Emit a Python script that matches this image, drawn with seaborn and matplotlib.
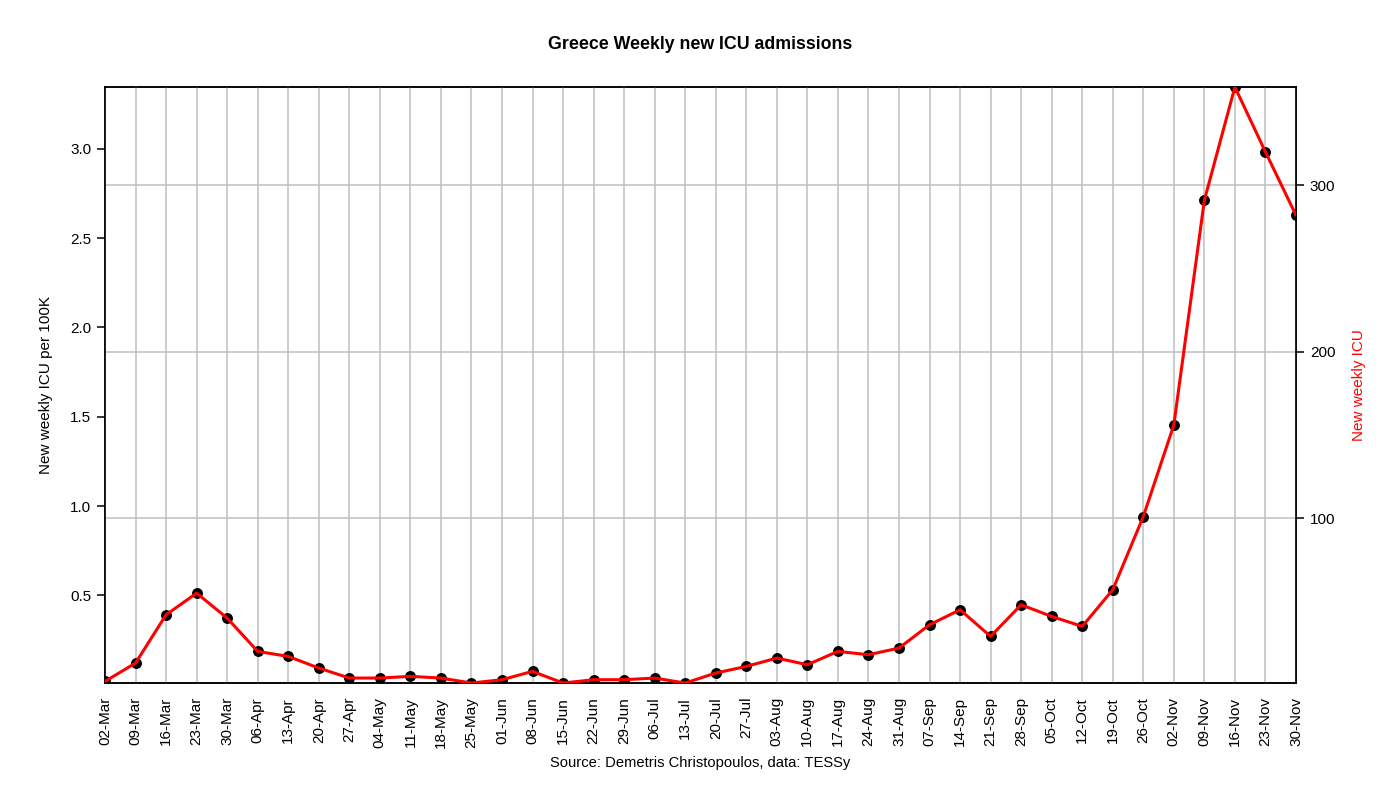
import numpy as np
import pandas as pd
import matplotlib
matplotlib.use("Agg")
import matplotlib.pyplot as plt
import seaborn as sns

# Weekly data (week starting dates) and new ICU admissions
weeks = ["02-Mar", "09-Mar", "16-Mar", "23-Mar", "30-Mar", "06-Apr", "13-Apr", "20-Apr",
         "27-Apr", "04-May", "11-May", "18-May", "25-May", "01-Jun", "08-Jun", "15-Jun",
         "22-Jun", "29-Jun", "06-Jul", "13-Jul", "20-Jul", "27-Jul", "03-Aug", "10-Aug",
         "17-Aug", "24-Aug", "31-Aug", "07-Sep", "14-Sep", "21-Sep", "28-Sep", "05-Oct",
         "12-Oct", "19-Oct", "26-Oct", "02-Nov", "09-Nov", "16-Nov", "23-Nov", "30-Nov"]
icu_counts = [2, 13, 42, 55, 40, 20, 17, 10, 4, 4, 5, 4, 1, 3, 8, 1, 3, 3, 4, 1,
              7, 11, 16, 12, 20, 18, 22, 36, 45, 29, 48, 41, 35, 57, 101, 156, 291, 359, 320, 282]
pop_100k = 107.3  # Greece population in units of 100K

df = pd.DataFrame({"x": np.arange(len(weeks)), "week": weeks, "icu": icu_counts})
df["per100k"] = df["icu"] / pop_100k

sns.set_style("white")
plt.rcParams["font.family"] = ["Liberation Sans", "DejaVu Sans"]
plt.rcParams["text.color"] = "black"
plt.rcParams["xtick.color"] = "black"
plt.rcParams["ytick.color"] = "black"
plt.rcParams["axes.labelcolor"] = "black"

fig = plt.figure(figsize=(14, 7.88), dpi=100)
ax = fig.add_axes([0.075, 0.1332, 0.8507, 0.7564])
ax2 = ax.twinx()

# keep the main axis (line, points) above the twin axis grid
ax.set_zorder(ax2.get_zorder() + 1)
ax.patch.set_visible(False)

# vertical grid at every week
for xv in df["x"]:
    ax.axvline(xv, color="#bebebe", lw=1.1, zorder=0)

sns.lineplot(data=df, x="x", y="per100k", ax=ax, color="red", lw=2.2, zorder=3)
sns.scatterplot(data=df, x="x", y="per100k", ax=ax, color="black", s=62,
                edgecolor="black", linewidth=0, zorder=2)

ymin, ymax = df["per100k"].min(), df["per100k"].max()
ax.set_xlim(0, len(weeks) - 1)
ax.set_ylim(ymin, ymax)
ax2.set_ylim(ymin * pop_100k, ymax * pop_100k)

ax.set_xticks(df["x"])
ax.set_xticklabels(weeks, rotation=90, fontsize=11)
ax.set_yticks([0.5, 1.0, 1.5, 2.0, 2.5, 3.0])
ax.set_yticklabels(["0.5", "1.0", "1.5", "2.0", "2.5", "3.0"], fontsize=11)
ax.set_xlabel("")
ax.set_ylabel("New weekly ICU per 100K", fontsize=11, labelpad=12)

ax2.set_yticks([100, 200, 300])
ax2.set_yticklabels(["100", "200", "300"], fontsize=11)
ax2.set_ylabel("New weekly ICU", color="red", fontsize=11, labelpad=12)
ax2.grid(axis="y", color="#bebebe", lw=1.1)

for a in (ax, ax2):
    a.tick_params(axis="both", direction="out", length=6, width=1.1, color="black", pad=4)
    for s in a.spines.values():
        s.set_color("black")
        s.set_linewidth(1.1)

fig.text(0.5, 0.943, "Greece Weekly new ICU admissions", ha="center", va="center",
         fontsize=12.8, fontweight="bold")
fig.text(0.5, 0.032, "Source: Demetris Christopoulos, data: TESSy", ha="center",
         va="center", fontsize=10.6)

plt.savefig("out.png", dpi=100)
plt.close()
